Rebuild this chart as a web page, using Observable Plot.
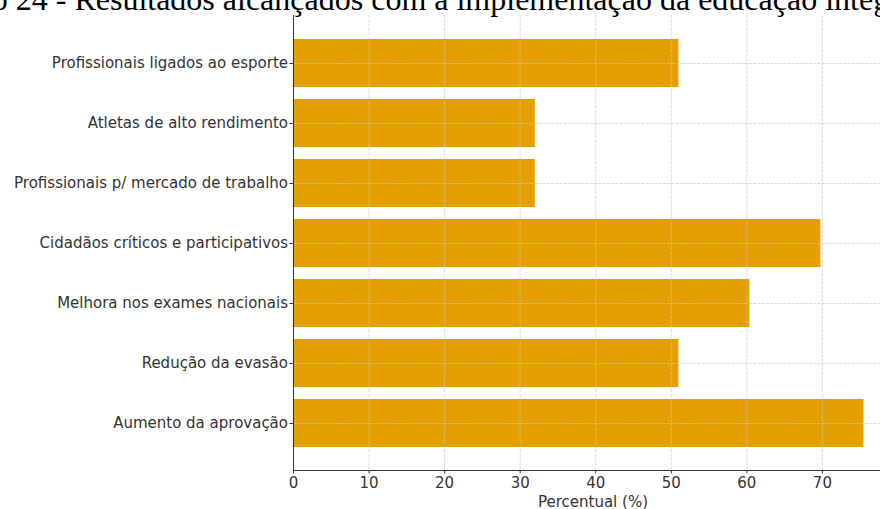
<!DOCTYPE html>
<html><head><meta charset="utf-8">
<script src="https://cdn.jsdelivr.net/npm/d3@7"></script>
<script src="https://cdn.jsdelivr.net/npm/@observablehq/plot@0.6"></script>
<style>
html,body{margin:0;padding:0;background:#fff;overflow:hidden;width:880px;height:509px;}
#wrap{position:relative;width:880px;height:509px;overflow:hidden;}
#title{position:absolute;left:-90px;top:-17px;font-family:"Liberation Serif";font-size:32px;line-height:32px;white-space:nowrap;color:#000;z-index:2}
#chart{position:absolute;left:0;top:0;width:892px;}
#chart svg{max-width:none !important;}
</style></head>
<body><div id="wrap"><div id="chart"></div><div id="title">Gráfico 24 - Resultados alcançados com a implementação da educação integral</div></div>
<script>
const categories = [
  "Profissionais ligados ao esporte",
  "Atletas de alto rendimento",
  "Profissionais p/ mercado de trabalho",
  "Cidadãos críticos e participativos",
  "Melhora nos exames nacionais",
  "Redução da evasão",
  "Aumento da aprovação"
];
const values = [51, 32, 32, 69.8, 60.4, 51, 75.5];
const xTicks = [0, 10, 20, 30, 40, 50, 60, 70];
const xLabel = "Percentual (%)";

const data = categories.map((c, i) => ({category: c, value: values[i]}));
const gridStyle = {stroke: "#c8c8c8", strokeOpacity: 0.85, strokeWidth: 0.8, strokeDasharray: "3,1.3"};

const chart = Plot.plot({
  width: 892, height: 509,
  marginLeft: 293, marginRight: 0, marginTop: 15, marginBottom: 39,
  style: {fontFamily: "DejaVu Sans", fontSize: "15px", color: "#333", background: "#fff", overflow: "visible", maxWidth: "none"},
  x: {domain: [0, 79.275]},
  y: {domain: categories, paddingInner: 0.2, paddingOuter: 0.34},
  marks: [
    Plot.barX(data, {x: "value", y: "category", fill: "#E69F00"}),
    Plot.ruleX(xTicks.slice(1), gridStyle),
    Plot.ruleY(categories, {y: d => d, ...gridStyle}),
    Plot.ruleX([0], {stroke: "#333", strokeWidth: 1}),
    Plot.frame({anchor: "bottom", stroke: "#333", strokeWidth: 1}),
    Plot.axisX({ticks: xTicks, tickFormat: d => String(d), tickSize: 3.5, tickPadding: 3, stroke: "#333",
      label: xLabel, labelAnchor: "center", labelOffset: 36, labelArrow: "none"}),
    Plot.axisY({tickSize: 3.5, tickPadding: 2, label: null, stroke: "#333"})
  ]
});
document.getElementById("chart").appendChild(chart);
</script>
</body></html>
